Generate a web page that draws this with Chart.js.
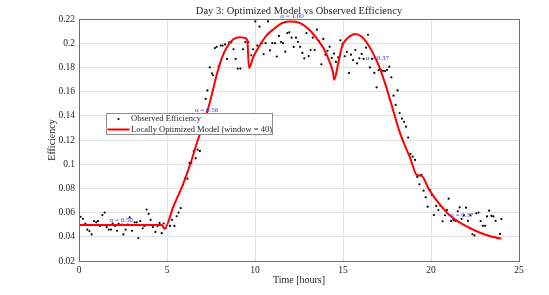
<!DOCTYPE html>
<html>
<head>
<meta charset="utf-8">
<script src="https://cdn.jsdelivr.net/npm/chart.js@4.4.1/dist/chart.umd.min.js"></script>
<style>
  html, body { margin: 0; padding: 0; background: #fff; }
  #wrap { width: 549px; height: 295px; }
</style>
</head>
<body>
<div id="wrap"><canvas id="effChart" width="549" height="295"></canvas></div>
<script>
(function () {
    'use strict';

    // observed efficiency samples (hours, efficiency)
    var obsTime = [0, 0.09, 0.23, 0.36, 0.47, 0.59, 0.72, 0.85, 0.98, 1.08, 1.19, 1.33, 1.46, 1.57, 1.69, 1.82, 1.91, 2.05, 2.16, 2.25,
        2.44, 2.52, 2.65, 2.77, 2.88, 3.01, 3.16, 3.28, 3.37, 3.48, 3.62, 3.71, 3.84, 3.96, 4.07, 4.20, 4.34, 4.45, 4.58, 4.70,
        4.81, 4.92, 5.17, 5.28, 5.42, 5.55, 5.66, 5.78, 5.91, 6.02, 6.16, 6.27, 6.38, 6.52, 6.63, 6.74, 6.87, 6.99, 7.11, 7.2,
        7.3, 7.43, 7.55, 7.62, 7.72, 7.82, 7.94, 8.05, 8.16, 8.30, 8.41, 8.54, 8.65, 8.78, 8.9, 9.02, 9.17, 9.32, 9.45, 9.62,
        9.79, 9.89, 10.02, 10.13, 10.26, 10.38, 10.49, 10.6, 10.74, 10.85, 10.98, 11.14, 11.24, 11.36, 11.48, 11.59, 11.72, 11.84, 11.95, 12.08,
        12.2, 12.33, 12.44, 12.56, 12.69, 12.8, 12.92, 13.05, 13.16, 13.28, 13.39, 13.52, 13.64, 13.77, 13.88, 14.0, 14.12, 14.24, 14.36, 14.49,
        14.6, 14.73, 14.85, 14.98, 15.1, 15.22, 15.34, 15.45, 15.57, 15.7, 15.8, 15.93, 16.06, 16.17, 16.31, 16.42, 16.53, 16.65, 16.78, 16.91,
        17.03, 17.14, 17.27, 17.39, 17.5, 17.63, 17.75, 17.87, 17.99, 18.1, 18.22, 18.35, 18.47, 18.58, 18.7, 18.83, 18.96, 19.09, 19.22, 19.34,
        19.45, 19.58, 19.7, 19.81, 19.93, 20.06, 20.17, 20.3, 20.42, 20.54, 20.66, 20.8, 20.9, 21.0, 21.14, 21.27, 21.39, 21.52, 21.63, 21.74,
        21.87, 21.99, 22.1, 22.24, 22.35, 22.47, 22.57, 22.7, 22.82, 22.94, 23.07, 23.18, 23.3, 23.43, 23.54, 23.67, 23.79, 23.92, 24.0];
    var obsEff = [0.0463, 0.0565, 0.0549, 0.051, 0.046, 0.0447, 0.042, 0.053, 0.052, 0.053, 0.049, 0.058, 0.060, 0.048, 0.046, 0.046, 0.051, 0.049, 0.045, 0.051,
        0.050, 0.042, 0.046, 0.050, 0.056, 0.045, 0.052, 0.052, 0.039, 0.053, 0.047, 0.049, 0.0625, 0.059, 0.054, 0.048, 0.044, 0.049, 0.0515, 0.043,
        0.051, 0.047, 0.049, 0.054, 0.049, 0.057, 0.060, 0.0637, 0.083, 0.088, 0.088, 0.101, 0.101, 0.111, 0.105, 0.112, 0.111, 0.130, 0.138, 0.154,
        0.161, 0.180, 0.175, 0.1735, 0.196, 0.197, 0.181, 0.198, 0.198, 0.199, 0.187, 0.2007, 0.2007, 0.195, 0.187, 0.179, 0.179, 0.195, 0.201, 0.201,
        0.190, 0.195, 0.218, 0.198, 0.2137, 0.200, 0.191, 0.200, 0.218, 0.194, 0.200, 0.200, 0.189, 0.206, 0.201, 0.200, 0.193, 0.2084, 0.209, 0.2046,
        0.1969, 0.2046, 0.2011, 0.197, 0.192, 0.1875, 0.2084, 0.1894, 0.1944, 0.2046, 0.1944, 0.2112, 0.2016, 0.1826, 0.2035, 0.1905, 0.1937, 0.1971, 0.1878, 0.1914,
        0.1845, 0.1883, 0.2024, 0.1996, 0.1892, 0.1928, 0.1754, 0.1905, 0.1861, 0.1944, 0.1834, 0.1875, 0.1911, 0.1870, 0.1963, 0.207, 0.180, 0.187, 0.1754, 0.1635,
        0.1778, 0.178, 0.1772, 0.177, 0.178, 0.1806, 0.1718, 0.1566, 0.149, 0.161, 0.1423, 0.1376, 0.135, 0.131, 0.122, 0.1084, 0.1062, 0.1035, 0.0895, 0.0834,
        0.0913, 0.0781, 0.0726, 0.0649, 0.0787, 0.0745, 0.0580, 0.0655, 0.0621, 0.0655, 0.0528, 0.0578, 0.0621, 0.0715, 0.0530, 0.0538, 0.053, 0.0611, 0.0644, 0.0547,
        0.0578, 0.0641, 0.0532, 0.0578, 0.0421, 0.0411, 0.0594, 0.0600, 0.053, 0.0491, 0.0491, 0.0568, 0.0616, 0.0573, 0.0568, 0.0532, 0.0388, 0.0424, 0.0547];

    // locally optimized model curve
    var modelTime = [0, 4.7, 4.85, 5.36, 5.93, 6.4, 6.69, 6.97, 7.26, 7.54, 7.82, 8.11, 8.39, 8.77, 9.15, 9.43, 9.56, 9.66,
        9.9, 10.28, 10.66, 11.14, 11.52, 11.9, 12.3, 12.65, 13.13, 13.5, 13.88, 14.26, 14.43, 14.5,
        14.73, 14.95, 15.15, 15.4, 15.68, 16.06, 16.44, 16.85, 17.1, 17.48, 17.86, 18.2, 18.5, 18.81, 19.19, 19.47,
        19.85, 20.23, 20.61, 20.98, 21.55, 22.12, 22.69, 23.26, 23.82, 24.0];
    var modelEff = [0.0497, 0.0497, 0.0467, 0.0649, 0.0842, 0.1035, 0.1173, 0.1290, 0.1420, 0.1572, 0.1737, 0.1875, 0.1965, 0.2032, 0.2049, 0.2044, 0.2026, 0.1795,
        0.1885, 0.1985, 0.2065, 0.2125, 0.2165, 0.2180, 0.2178, 0.2160, 0.2105, 0.2040, 0.1962, 0.1838, 0.1760, 0.1697,
        0.1836, 0.1975, 0.2025, 0.2058, 0.2076, 0.2054, 0.1985, 0.1875, 0.1790, 0.1627, 0.1440, 0.1275, 0.1160, 0.1055, 0.0911, 0.0905,
        0.0801, 0.0718, 0.0649, 0.0589, 0.0525, 0.0479, 0.0440, 0.0409, 0.0390, 0.0384];

    // alpha labels per window
    var alphaText = ['0.50', '0.56', '1.00', '0.37', '0.37'];
    var alphaTime = [2.4, 7.25, 12.1, 16.95, 21.75];
    var alphaEff = [0.054, 0.1448, 0.2227, 0.188, 0.058];

    var xTicks = [0, 5, 10, 15, 20, 25];
    var yTicks = [0.02, 0.04, 0.06, 0.08, 0.1, 0.12, 0.14, 0.16, 0.18, 0.2, 0.22];

    var serif = '"Liberation Serif", "DejaVu Serif", serif';
    var ink = '#262626';

    function pairs(xs, ys) {
        return xs.map(function (x, i) { return { x: x, y: ys[i] }; });
    }

    var decorations = {
        id: 'decorations',
        afterDatasetsDraw: function (chart) {
            var ctx = chart.ctx, x = chart.scales.x, y = chart.scales.y;
            ctx.save();
            ctx.fillStyle = '#3a3ad6';
            ctx.font = '7px ' + serif;
            ctx.textAlign = 'center';
            ctx.textBaseline = 'middle';
            alphaText.forEach(function (t, i) {
                ctx.fillText('\u03b1 = ' + t, x.getPixelForValue(alphaTime[i]), y.getPixelForValue(alphaEff[i]));
            });
            ctx.restore();
        },
        afterDraw: function (chart) {
            var ctx = chart.ctx, a = chart.chartArea;
            ctx.save();
            // axes box
            ctx.strokeStyle = '#6e6e6e';
            ctx.lineWidth = 1;
            ctx.strokeRect(a.left + 0.5, a.top + 0.5, a.right - a.left, a.bottom - a.top);

            // title and axis labels
            ctx.fillStyle = ink;
            ctx.textAlign = 'center';
            ctx.textBaseline = 'middle';
            ctx.font = '10.5px ' + serif;
            ctx.fillText('Day 3: Optimized Model vs Observed Efficiency', (a.left + a.right) / 2, 11);
            ctx.font = '10px ' + serif;
            ctx.fillText('Time [hours]', (a.left + a.right) / 2, 280);
            ctx.save();
            ctx.translate(52, (a.top + a.bottom) / 2);
            ctx.rotate(-Math.PI / 2);
            ctx.fillText('Efficiency', 0, 0);
            ctx.restore();

            // legend
            var lx = 106, ly = 113, lw = 166, lh = 21;
            ctx.fillStyle = '#fff';
            ctx.fillRect(lx, ly, lw, lh);
            ctx.strokeStyle = '#8c8c8c';
            ctx.strokeRect(lx + 0.5, ly + 0.5, lw, lh);
            ctx.fillStyle = '#000';
            ctx.beginPath();
            ctx.arc(118.5, 119, 1.1, 0, Math.PI * 2);
            ctx.fill();
            ctx.strokeStyle = '#ff0000';
            ctx.lineWidth = 2;
            ctx.beginPath();
            ctx.moveTo(107.5, 129.5);
            ctx.lineTo(129.5, 129.5);
            ctx.stroke();
            ctx.fillStyle = ink;
            ctx.textAlign = 'left';
            ctx.font = '8.5px ' + serif;
            ctx.fillText('Observed Efficiency', 131, 119);
            ctx.fillText('Locally Optimized Model (window = 40)', 131, 129.5);
            ctx.restore();
        }
    };

    new Chart(document.getElementById('effChart'), {
        type: 'scatter',
        data: {
            datasets: [{
                label: 'Locally Optimized Model (window = 40)',
                data: pairs(modelTime, modelEff),
                showLine: true,
                borderColor: '#ff0000',
                borderWidth: 2,
                pointRadius: 0,
                cubicInterpolationMode: 'monotone',
                order: 0
            }, {
                label: 'Observed Efficiency',
                data: pairs(obsTime, obsEff),
                backgroundColor: '#000',
                borderWidth: 0,
                pointRadius: 1.1,
                order: 1
            }]
        },
        options: {
            responsive: false,
            animation: false,
            layout: { padding: { left: 0, top: 19, right: 30, bottom: 0 } },
            plugins: { legend: { display: false }, tooltip: { enabled: false } },
            scales: {
                x: {
                    min: 0, max: 25,
                    afterBuildTicks: function (s) { s.ticks = xTicks.map(function (v) { return { value: v }; }); },
                    afterFit: function (s) { s.height = 34; },
                    grid: { color: '#e3e3e3', drawTicks: false },
                    border: { display: false },
                    ticks: { padding: 4, color: ink, font: { family: serif, size: 9.5 }, maxRotation: 0 }
                },
                y: {
                    min: 0.02, max: 0.22,
                    afterBuildTicks: function (s) { s.ticks = yTicks.map(function (v) { return { value: v }; }); },
                    afterFit: function (s) { s.width = 79; },
                    grid: { color: '#e3e3e3', drawTicks: false },
                    border: { display: false },
                    ticks: {
                        padding: 4, color: ink, font: { family: serif, size: 9.5 },
                        callback: function (v) { return String(parseFloat(v.toFixed(2))); }
                    }
                }
            }
        },
        plugins: [decorations]
    });
}());
</script>
</body>
</html>
